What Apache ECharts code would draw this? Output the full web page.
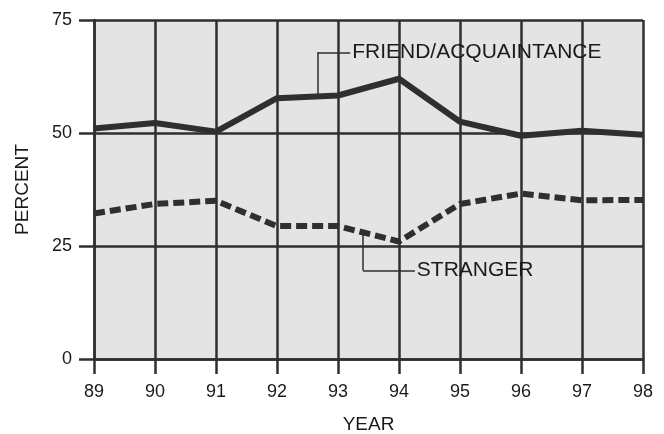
<!DOCTYPE html>
<html>
<head>
<meta charset="utf-8">
<script src="https://cdn.jsdelivr.net/npm/echarts@6/dist/echarts.min.js"></script>
<style>
  html, body { margin: 0; padding: 0; background: #fff; }
  #chart { width: 664px; height: 434px; }
</style>
</head>
<body>
<div id="chart"></div>
<script>
// values
var years = [89, 90, 91, 92, 93, 94, 95, 96, 97, 98];
var friend = [51.0, 52.2, 50.3, 57.7, 58.3, 62.0, 52.5, 49.4, 50.5, 49.6];
var stranger = [32.2, 34.3, 35.0, 29.4, 29.4, 26.0, 34.3, 36.6, 35.1, 35.2];
var yTicks = [0, 25, 50, 75];

// callout anchors in data units: [x, yOnLine, yElbow, xEnd]
var friendCallout = [92.66, 58.1, 67.8, 93.2];
var strangerCallout = [93.41, 28.0, 19.6, 94.26];

var ink = '#2f2f2f';
var textInk = '#1a1a1a';

function pairs(vals) {
  return years.map(function (y, i) { return [y, vals[i]]; });
}

function callout(c) {
  return {
    silent: true,
    symbol: 'none',
    animation: false,
    label: { show: false },
    lineStyle: { color: ink, width: 1.5, type: 'solid' },
    data: [
      [{ coord: [c[0], c[1]] }, { coord: [c[0], c[2]] }],
      [{ coord: [c[0], c[2]] }, { coord: [c[3], c[2]] }]
    ]
  };
}

function tag(c, text) {
  return {
    silent: true,
    symbol: 'circle',
    symbolSize: 0,
    animation: false,
    label: {
      show: true,
      position: 'right',
      distance: 2,
      formatter: text,
      color: textInk,
      fontFamily: 'Liberation Sans',
      fontSize: 21
    },
    data: [{ coord: [c[3], c[2]] }]
  };
}

var chart = echarts.init(document.getElementById('chart'));

var option = {
  animation: false,
  backgroundColor: '#fff',
  grid: {
    left: 94, right: 21, top: 20, bottom: 75,
    outerBoundsMode: 'none',
    show: true,
    backgroundColor: '#e4e4e4',
    borderWidth: 0
  },
  xAxis: {
    type: 'value',
    min: 89, max: 98, interval: 1,
    name: 'YEAR',
    nameLocation: 'middle',
    nameGap: 56,
    nameTextStyle: { color: textInk, fontFamily: 'Liberation Sans', fontSize: 19 },
    axisLine: { show: true, lineStyle: { color: ink, width: 2.5 } },
    axisTick: { show: true, length: 15, lineStyle: { color: ink, width: 2.5 } },
    axisLabel: { color: textInk, fontFamily: 'Liberation Sans', fontSize: 18, margin: 24 },
    splitLine: { show: true, lineStyle: { color: ink, width: 2.5 } }
  },
  yAxis: {
    type: 'value',
    min: yTicks[0], max: yTicks[yTicks.length - 1], interval: 25,
    name: 'PERCENT',
    nameLocation: 'middle',
    nameRotate: 90,
    nameGap: 62,
    nameTextStyle: { color: textInk, fontFamily: 'Liberation Sans', fontSize: 19 },
    axisLine: { show: true, lineStyle: { color: ink, width: 2.5 } },
    axisTick: { show: true, length: 15, lineStyle: { color: ink, width: 2.5 } },
    axisLabel: { color: textInk, fontFamily: 'Liberation Sans', fontSize: 18, margin: 22 },
    splitLine: { show: true, lineStyle: { color: ink, width: 2.5 } }
  },
  series: [
    {
      name: 'FRIEND/ACQUAINTANCE',
      type: 'line',
      data: pairs(friend),
      symbol: 'none',
      lineStyle: { color: ink, width: 6 },
      z: 5,
      markLine: callout(friendCallout),
      markPoint: tag(friendCallout, 'FRIEND/ACQUAINTANCE')
    },
    {
      name: 'STRANGER',
      type: 'line',
      data: pairs(stranger),
      symbol: 'none',
      lineStyle: { color: ink, width: 6, type: [11, 5] },
      z: 5,
      markLine: callout(strangerCallout),
      markPoint: tag(strangerCallout, 'STRANGER')
    }
  ]
};

chart.setOption(option);
</script>
</body>
</html>
